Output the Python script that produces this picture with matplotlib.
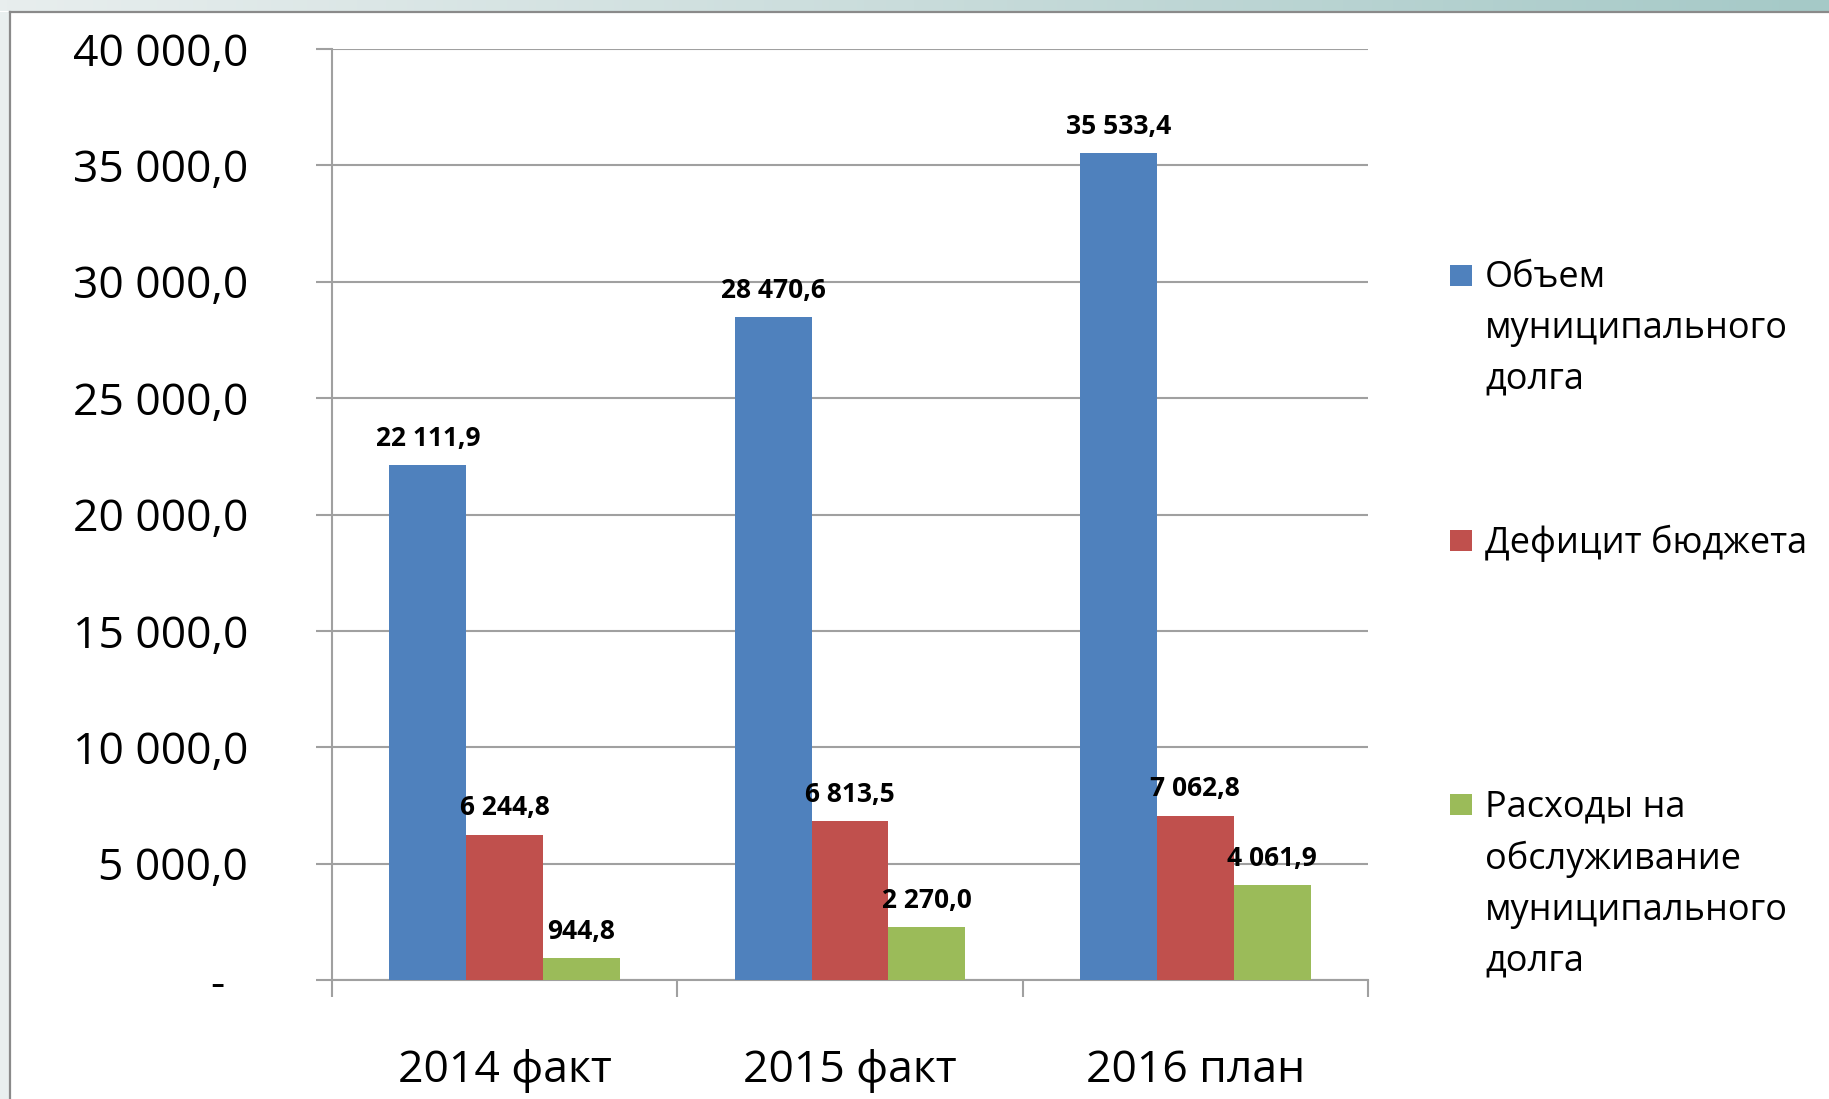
import numpy as np
import matplotlib.pyplot as plt
from matplotlib.patches import Rectangle
from matplotlib.lines import Line2D
from matplotlib.colors import LinearSegmentedColormap

plt.rcParams['font.family'] = ['Open Sans', 'DejaVu Sans']

# данные
categories = ['2014 факт', '2015 факт', '2016 план']
series_names = ['Объем\nмуниципального\nдолга',
                'Дефицит бюджета',
                'Расходы на\nобслуживание\nмуниципального\nдолга']
debt = [22111.9, 28470.6, 35533.4]
deficit = [6244.8, 6813.5, 7062.8]
service = [944.8, 2270.0, 4061.9]
y_ticks = [0, 5000, 10000, 15000, 20000, 25000, 30000, 35000, 40000]

colors = ['#4f81bd', '#c0504d', '#9bbb59']
grid_col = '#a0a0a0'
W, H = 1829, 1099


def fmt(v):
    # формат как в Excel: пробел между тысячами, запятая в дробной части
    if v == 0:
        return '-  '
    return f'{v:,.1f}'.replace(',', ' ').replace('.', ',')


fig = plt.figure(figsize=(W / 100, H / 100), dpi=100)
fig.patch.set_facecolor('white')

ax = fig.add_axes([332 / W, 1 - 980 / H, (1368 - 332) / W, (980 - 49) / H])

x = np.arange(len(categories))
w = 0.2225
for i, (vals, c) in enumerate(zip([debt, deficit, service], colors)):
    ax.bar(x + (i - 1) * w, vals, w, color=c, zorder=3)
    for xi, v in zip(x + (i - 1) * w, vals):
        ax.annotate(fmt(v), (xi, v), xytext=(0, 14), textcoords='offset points',
                    ha='center', va='baseline', fontsize=19, fontweight='bold')

ax.set_xlim(-0.5, len(categories) - 0.5)
ax.set_ylim(0, 40000)
ax.set_axisbelow(True)
ax.yaxis.grid(True, color=grid_col, lw=1.5)

for s in ['top', 'right']:
    ax.spines[s].set_visible(False)
for s in ['left', 'bottom']:
    ax.spines[s].set_color(grid_col)
    ax.spines[s].set_linewidth(1.5)

ax.set_yticks(y_ticks)
ax.set_yticklabels([fmt(v) for v in y_ticks])
ax.tick_params(axis='y', direction='out', length=11.5, width=1.5, color=grid_col,
               pad=49, labelsize=32)

ax.set_xticks(np.arange(len(categories) + 1) - 0.5)
ax.set_xticklabels([])
ax.tick_params(axis='x', which='major', direction='out', length=12, width=1.5,
               color=grid_col)
ax.set_xticks(x, minor=True)
ax.set_xticklabels(categories, minor=True)
ax.tick_params(axis='x', which='minor', length=0, pad=49, labelsize=32)

# оформление слайда: полоса сверху и рамка
band = fig.add_axes([0, 1 - 11 / H, 1, 11 / H])
cmap = LinearSegmentedColormap.from_list('band', ['#e8eeee', '#c9dcdb', '#a5c9c7'])
band.imshow(np.linspace(0, 1, 256)[None, :], aspect='auto', cmap=cmap)
band.axis('off')
fig.add_artist(Rectangle((0, 0), 9 / W, 1 - 12 / H, transform=fig.transFigure,
                         color='#e9efef', lw=0))
fig.add_artist(Line2D([9.5 / W, 1], [1 - 12 / H, 1 - 12 / H], transform=fig.transFigure,
                      color='#8a8a8a', lw=1.6))
fig.add_artist(Line2D([9.5 / W, 9.5 / W], [0, 1 - 12 / H], transform=fig.transFigure,
                      color='#8a8a8a', lw=1.6))

# легенда
text_tops = [260, 525, 789]
for name, c, top in zip(series_names, colors, text_tops):
    fig.add_artist(Rectangle((1450 / W, 1 - (top + 26) / H), 22 / W, 21 / H,
                             transform=fig.transFigure, color=c, lw=0))
    fig.text(1485 / W, 1 - top / H, name, ha='left', va='top', fontsize=26,
             linespacing=1.55)

fig.savefig('out.png', dpi=100)
